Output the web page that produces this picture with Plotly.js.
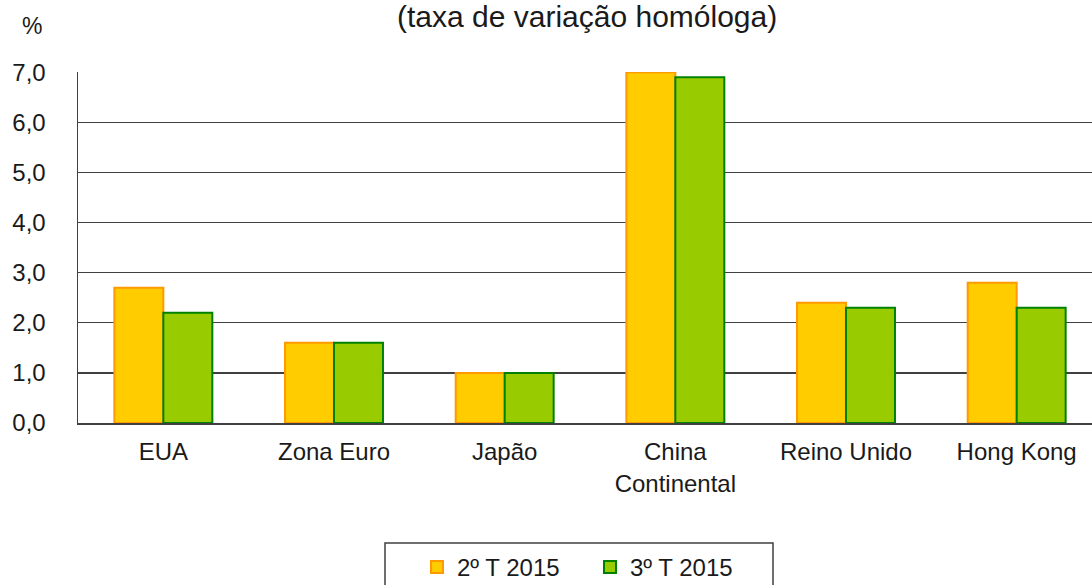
<!DOCTYPE html>
<html>
<head>
<meta charset="utf-8">
<script src="https://cdn.plot.ly/plotly-3.0.1.min.js"></script>
<style>
html,body{margin:0;padding:0;overflow:hidden;background:#fff;}
#chart{width:1105px;height:585px;}
</style>
</head>
<body>
<div id="chart"></div>
<script>
const categories = ["EUA", "Zona Euro", "Japão", "China<br>Continental", "Reino Unido", "Hong Kong"];
const seriesNames = ["2º T 2015", "3º T 2015"];
const q2_2015 = [2.7, 1.6, 1.0, 7.0, 2.4, 2.8];
const q3_2015 = [2.2, 1.6, 1.0, 6.9, 2.3, 2.3];
const yTicks = [0, 1, 2, 3, 4, 5, 6, 7];

const font = "Liberation Sans, Arial, sans-serif";

const traces = [
  {
    type: "bar", name: seriesNames[0], x: categories, y: q2_2015,
    marker: {color: "#FFCC00", line: {color: "#FF9900", width: 2}},
    hoverinfo: "x+y"
  },
  {
    type: "bar", name: seriesNames[1], x: categories, y: q3_2015,
    marker: {color: "#99CC00", line: {color: "#008000", width: 2}},
    hoverinfo: "x+y"
  }
];

const plotL = 78, plotT = 72, plotB = 423, plotR = 1102;
const pw = plotR - plotL, ph = plotB - plotT;
const px = v => (v - plotL) / pw;
const py = v => (plotB - v) / ph;

const layout = {
  width: 1105, height: 585,
  margin: {l: plotL, r: 1105 - plotR, t: plotT, b: 585 - plotB, pad: 0, autoexpand: false},
  paper_bgcolor: "#fff", plot_bgcolor: "#fff",
  separators: ",.",
  font: {family: font, size: 24, color: "#1a1a1a"},
  barmode: "group",
  bargap: 0.426, bargroupgap: 0,
  showlegend: true,
  legend: {
    orientation: "h", xref: "paper", yref: "paper",
    x: px(417), y: py(545), xanchor: "left", yanchor: "top",
    bgcolor: "rgba(0,0,0,0)", borderwidth: 0,
    font: {family: font, size: 24, color: "#1a1a1a"},
    itemwidth: 30, entrywidth: 128
  },
  xaxis: {
    type: "category", showgrid: false, zeroline: false,
    showline: true, linecolor: "#404040", linewidth: 1.5,
    ticks: "", ticklabelstandoff: 7,
    tickfont: {family: font, size: 24, color: "#1a1a1a"}
  },
  yaxis: {
    range: [0, 7.006], tickvals: yTicks, tickformat: ".1f",
    showgrid: true, gridcolor: "#404040", gridwidth: 1.4,
    zeroline: false, showline: true, linecolor: "#404040", linewidth: 1.5,
    ticks: "", ticklabelstandoff: 26,
    tickfont: {family: font, size: 24, color: "#1a1a1a"}
  },
  annotations: [
    {
      text: "(taxa de variação homóloga)", xref: "paper", yref: "paper",
      x: px(587), y: py(27), xanchor: "center", yanchor: "bottom", yshift: -8,
      showarrow: false, font: {family: font, size: 30, color: "#1a1a1a"}
    },
    {
      text: "%", xref: "paper", yref: "paper",
      x: px(32), y: py(35), xanchor: "center", yanchor: "bottom", yshift: -6,
      showarrow: false, font: {family: font, size: 23, color: "#1a1a1a"}
    }
  ],
  shapes: [
    {
      type: "rect", xref: "paper", yref: "paper",
      x0: px(385), x1: px(773), y0: py(543), y1: py(620),
      line: {color: "#404040", width: 1.5}, fillcolor: "rgba(0,0,0,0)"
    }
  ]
};

Plotly.newPlot("chart", traces, layout, {displayModeBar: false, staticPlot: true});
</script>
</body>
</html>
